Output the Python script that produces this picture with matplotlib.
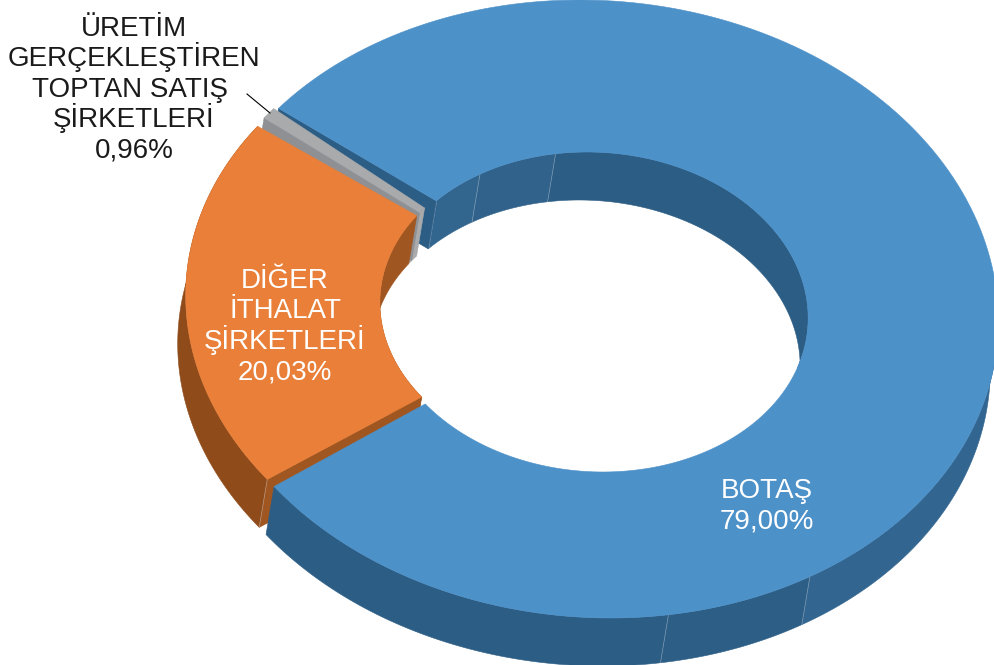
import numpy as np
import matplotlib
matplotlib.use("Agg")
import matplotlib.pyplot as plt

plt.rcParams['font.family'] = ['Liberation Sans', 'DejaVu Sans']

names = [["BOTAŞ"], ["DİĞER", "İTHALAT", "ŞİRKETLERİ"], ["ÜRETİM", "GERÇEKLEŞTİREN", "TOPTAN SATIŞ ", "ŞİRKETLERİ"]]
values = [79.00, 20.03, 0.96]
percent_labels = ["79,00%", "20,03%", "0,96%"]

top_colors = ["#4D91C9", "#E97F38", "#A9AAAC"]
wall_colors = ["#2C5D85", "#8F4B1A", "#8F9094"]
cut_colors = ["#2C5D85", "#A05620", "#8F9094"]
text_colors = ["white", "white", "#1A1A1A"]
text_spots = [(767, 498), (285, 288), (134, 36)]

start = 139.5
depth = np.array([-8.0, 48.0])
lean = 0.05
blue_inner_shift = 3.5
gray_top_part = 0.65

# slice centres and radii in pixels: outer centre, outer radii, inner centre, inner radii
shapes = [
    ((595, 309), (403, 309), (595, 312), (213, 160)),
    ((586, 307), (400, 300), (585, 308.5), (205, 154)),
    ((590, 306), (403, 304), (587, 308), (207, 154)),
]

total = sum(values)
angles = [start]
for v in values:
    angles.append(angles[-1] - v / total * 360)


def arc(c, r, a0, a1, n=200):
    t = np.radians(np.linspace(a0, a1, n))
    dy = -r[1] * np.sin(t)
    return np.column_stack([c[0] + r[0] * np.cos(t) + lean * dy, c[1] + dy])


def patch(pts, color, z):
    ax.fill(pts[:, 0], pts[:, 1], color=color, lw=0.4, zorder=z)


def wall(c, r, a0, a1, color, z):
    p = arc(c, r, a0, a1)
    patch(np.vstack([p, p[::-1] + depth]), color, z)


def cut(shape, a, color, z, inner_shift=0):
    oc, orad, ic, irad = shape
    p0 = arc(oc, orad, a, a, 1)
    p1 = arc(ic, irad, a - inner_shift, a - inner_shift, 1)
    patch(np.vstack([p0, p1, p1 + depth, p0 + depth]), color, z)


def top(shape, a0, a1, color, z, inner_shift=0):
    oc, orad, ic, irad = shape
    patch(np.vstack([arc(oc, orad, a0, a1), arc(ic, irad, a1, a0 - inner_shift)]), color, z)


def seam(c, r, a, z):
    p = arc(c, r, a, a, 1)[0]
    ax.plot([p[0], p[0] + depth[0]], [p[1], p[1] + depth[1]], color="#C9D3DC", lw=0.5, alpha=0.5, zorder=z)


fig = plt.figure(figsize=(9.95, 6.65), dpi=100)
ax = fig.add_axes([0, 0, 1, 1])
ax.set_xlim(0, 995)
ax.set_ylim(665, 0)
ax.axis("off")

blue, orange, gray = shapes
b0, b1 = angles[0], angles[1] + 360
o0, o1 = angles[1] + 360, angles[2] + 360
g0, g1 = angles[2] + 360, angles[3] + 360
g_top = g1 + (g0 - g1) * gray_top_part

# back of the hole, blue panels get darker going right
inner_seams = [120.5, 98.5]
wall(blue[2], blue[3], b0 - blue_inner_shift, inner_seams[0], "#33668F", 1)
wall(blue[2], blue[3], inner_seams[0], inner_seams[1], "#30628B", 1)
wall(blue[2], blue[3], inner_seams[1], -20, "#2C5D85", 1)
for a in [b0 - blue_inner_shift - 0.2] + inner_seams:
    seam(blue[2], blue[3], a, 1.5)
cut(blue, b0, cut_colors[0], 2, blue_inner_shift)

# grey sliver
wall(gray[2], gray[3], g0, g1, top_colors[2], 3)
cut(gray, g_top, cut_colors[2], 3)
top(gray, g_top, g1, top_colors[2], 4)

# orange
wall(orange[2], orange[3], o0, o1, cut_colors[1], 5)
wall(orange[0], orange[1], o0, o1, wall_colors[1], 5)
cut(orange, o0, cut_colors[1], 5)
seam(orange[0], orange[1], o0, 5.2)
top(orange, o0, o1, top_colors[1], 6)

# blue front
outer_seams = [300, 278.3]
wall(blue[0], blue[1], 360, outer_seams[0], "#32658F", 7)
wall(blue[0], blue[1], outer_seams[0], outer_seams[1], "#2D5E86", 7)
wall(blue[0], blue[1], outer_seams[1], b1, "#2C5D85", 7)
for a in outer_seams:
    seam(blue[0], blue[1], a, 7.5)
top(blue, b0, b1 - 360, top_colors[0], 8, blue_inner_shift)

for i in range(3):
    lines = names[i] + [percent_labels[i]]
    for j, line in enumerate(lines):
        ax.text(text_spots[i][0], text_spots[i][1] + j * 30.4, line, color=text_colors[i], fontsize=20,
                ha="center", va="baseline", zorder=10)
ax.plot([247, 270], [94, 113], color="black", lw=0.8, zorder=9)

fig.savefig("out.png", dpi=100)
